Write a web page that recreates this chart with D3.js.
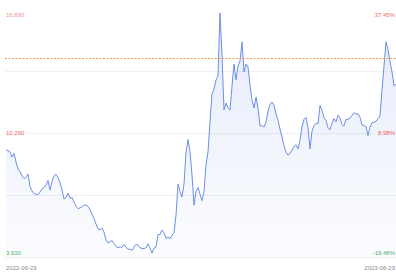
<!DOCTYPE html>
<html><head><meta charset="utf-8">
<script src="https://cdn.jsdelivr.net/npm/d3@7/dist/d3.min.js"></script>
<style>html,body{margin:0;padding:0;background:#fff;overflow:hidden}svg{display:block}</style>
</head><body><svg id="c" width="396" height="275"></svg>
<script>
const dateLabels = ["2022-06-29", "2023-06-29"];
const priceLabels = ["16.890", "10.260", "3.630"];
const pctLabels = ["37.45%", "8.98%", "-19.48%"];
const priceMin = 3.63, priceMax = 16.89;
const refValue = 14.43;
const prices = [
  9.32, 9.29, 9.21, 8.93, 9.13, 8.66, 8.27, 8.12, 7.88, 7.75,
  7.80, 7.99, 7.29, 7.06, 6.91, 6.88, 6.85, 7.00, 7.17, 7.25,
  7.36, 7.64, 7.11, 7.58, 7.88, 7.98, 7.80, 7.53, 7.11, 6.61,
  6.70, 6.93, 6.65, 6.70, 6.45, 6.21, 6.07, 6.13, 6.19, 6.28,
  6.28, 6.20, 6.03, 5.78, 5.54, 5.23, 4.96, 4.90, 5.01, 4.79,
  4.35, 4.18, 4.25, 4.32, 4.15, 3.99, 3.91, 3.98, 3.94, 4.10,
  3.96, 3.83, 3.85, 3.77, 3.95, 4.11, 4.07, 3.92, 3.88, 3.88,
  3.92, 4.14, 3.89, 3.63, 3.90, 3.96, 4.65, 4.65, 4.90, 4.75,
  4.44, 4.51, 4.42, 4.61, 4.74, 5.73, 7.44, 7.02, 6.72, 7.44,
  9.16, 9.90, 9.24, 7.94, 6.28, 7.03, 7.25, 6.89, 6.52, 7.02,
  8.49, 9.21, 10.88, 12.42, 12.69, 13.19, 13.41, 16.89, 14.57, 11.53,
  11.92, 11.64, 11.53, 12.86, 14.07, 13.19, 13.96, 14.24, 15.29, 13.63,
  14.07, 13.91, 12.91, 12.08, 11.64, 12.25, 11.64, 10.65, 10.67, 10.59,
  10.87, 11.48, 11.83, 11.97, 11.81, 11.31, 10.95, 10.48, 10.04, 9.54,
  9.21, 9.04, 9.13, 9.32, 9.51, 9.60, 9.38, 9.87, 10.59, 11.01,
  11.13, 10.54, 9.38, 10.37, 10.65, 10.80, 10.76, 11.78, 11.50, 11.11,
  10.94, 10.56, 10.43, 10.81, 11.05, 10.88, 11.24, 11.08, 10.73, 10.65,
  11.01, 11.02, 11.09, 11.24, 11.38, 11.31, 11.31, 11.14, 10.70, 10.66,
  10.61, 10.12, 10.59, 10.83, 10.85, 10.90, 11.06, 11.20, 12.64, 13.96,
  15.29, 14.87, 14.21, 13.63, 12.86, 12.95
];

const W = 396, H = 275;
const svg = d3.select("#c");
const x = d3.scaleLinear().domain([0, prices.length - 1]).range([6, 396]);
const y = d3.scaleLinear().domain([priceMin, priceMax]).range([253, 13]);
const frameTop = y(priceMax) - 4, frameBottom = y(priceMin) + 4;
const font = "'Liberation Sans', Arial, sans-serif";

// gradient
const defs = svg.append("defs");
const g = defs.append("linearGradient").attr("id", "ag").attr("x1", 0).attr("y1", 0).attr("x2", 0).attr("y2", 1);
g.append("stop").attr("offset", "0%").attr("stop-color", "#5b7fe0").attr("stop-opacity", 0.16);
g.append("stop").attr("offset", "100%").attr("stop-color", "#5b7fe0").attr("stop-opacity", 0.02);

// gridlines
const grid = d3.range(1, 5).map(k => frameTop + k * (frameBottom - frameTop) / 4);
svg.selectAll("line.grid").data(grid).enter().append("line")
  .attr("class", "grid")
  .attr("x1", (d, i) => i === 1 ? 27 : 5)
  .attr("x2", (d, i) => i === 1 ? 374 : W)
  .attr("y1", d => Math.round(d) + 0.5).attr("y2", d => Math.round(d) + 0.5)
  .attr("stroke", "#f0f0f3").attr("stroke-width", 1);

// area + line
svg.append("path").datum(prices)
  .attr("d", d3.area().x((d, i) => x(i)).y0(frameBottom).y1(d => y(d)))
  .attr("fill", "url(#ag)");
svg.append("path").datum(prices)
  .attr("d", d3.line().x((d, i) => x(i)).y(d => y(d)))
  .attr("fill", "none").attr("stroke", "#6d8fea").attr("stroke-width", 1).attr("stroke-linejoin", "round");

// reference dashed line
svg.append("line")
  .attr("x1", 5).attr("x2", W)
  .attr("y1", Math.round(y(refValue)) + 0.5).attr("y2", Math.round(y(refValue)) + 0.5)
  .attr("stroke", "#f39a4a").attr("stroke-width", 1).attr("stroke-dasharray", "2,1.5");

// left labels
const leftVals = [priceMax, (priceMin + priceMax) / 2, priceMin];
const leftOff = [2, 0, 0];
const leftCol = ["#f19393", "#ec5f5f", "#4caf6a"];
svg.selectAll("text.pl").data(priceLabels).enter().append("text")
  .attr("x", 6).attr("y", (d, i) => y(leftVals[i]) + leftOff[i])
  .attr("dominant-baseline", "central")
  .attr("font-family", font).attr("font-size", 6)
  .attr("fill", (d, i) => leftCol[i]).text(d => d);

// right labels
const rightCol = ["#ec6a6a", "#ec5f5f", "#4caf6a"];
svg.selectAll("text.pr").data(pctLabels).enter().append("text")
  .attr("x", 395).attr("y", (d, i) => y(leftVals[i]) + leftOff[i])
  .attr("text-anchor", "end").attr("dominant-baseline", "central")
  .attr("font-family", font).attr("font-size", 6)
  .attr("fill", (d, i) => rightCol[i]).text(d => d);

// dates
svg.append("text").attr("x", 6).attr("y", 268).attr("dominant-baseline", "central")
  .attr("font-family", font).attr("font-size", 6).attr("fill", "#8a8a8a").text(dateLabels[0]);
svg.append("text").attr("x", 395).attr("y", 268).attr("text-anchor", "end").attr("dominant-baseline", "central")
  .attr("font-family", font).attr("font-size", 6).attr("fill", "#8a8a8a").text(dateLabels[1]);
</script></body></html>
